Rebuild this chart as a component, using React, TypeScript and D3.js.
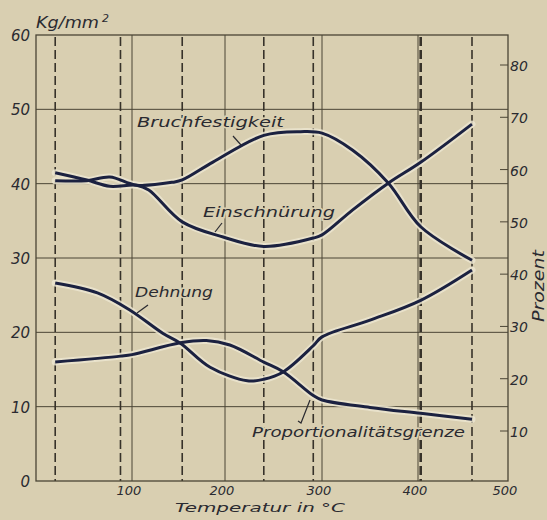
import React, { useEffect } from "react";
import * as d3 from "d3";

// ---- data ----
const testTemps = [20, 88, 154, 240, 291, 403, 460];
const xTicks = [100, 200, 300, 400, 500];
const leftTicks = [0, 10, 20, 30, 40, 50, 60];
const rightTicks = [10, 20, 30, 40, 50, 60, 70, 80];

// Bruchfestigkeit, kg/mm² (left axis)
const bruchT = [20, 53, 77, 105, 144, 154, 187, 240, 278, 300, 332, 369, 403, 460];
const bruchV = [40.4, 40.4, 40.9, 39.8, 40.2, 40.5, 42.9, 46.5, 47.0, 46.8, 44.5, 40.1, 34.2, 29.7];

// Einschnürung, % (right axis)
const einT = [20, 53, 77, 105, 118, 154, 198, 240, 291, 300, 332, 369, 403, 460];
const einV = [59.4, 58.0, 56.8, 57.0, 56.1, 50.0, 47.1, 45.3, 46.9, 47.5, 52.3, 57.4, 61.4, 68.7];

// Dehnung, % (right axis)
const dehT = [20, 64, 98, 133, 152, 184, 223, 240, 260, 291, 300, 350, 403, 460];
const dehV = [38.3, 36.4, 33.1, 28.7, 26.8, 22.2, 19.6, 19.9, 21.3, 26.3, 28.0, 31.2, 35.0, 40.8];

// Proportionalitätsgrenze, kg/mm² (left axis)
const propT = [20, 88, 100, 152, 180, 205, 240, 260, 291, 300, 350, 403, 460];
const propV = [16.0, 16.8, 17.0, 18.6, 18.9, 18.3, 16.0, 14.7, 11.5, 10.9, 9.9, 9.1, 8.3];

const W = 547;
const H = 520;
const BG = "#d9cfb1";
const GRID = "#4b4535";
const INK = "#1b2140";
const FONT = "'DejaVu Sans', 'Liberation Sans', sans-serif";

const x = d3.scaleLinear().domain([0, 100, 200, 300, 400, 500]).range([36, 132, 225, 322, 418, 508]);
const yL = d3.scaleLinear().domain([0, 60]).range([481, 35]);
const yR = d3.scaleLinear().domain([10, 80]).range([431, 65]);

const lineGen = (ys: d3.ScaleLinear<number, number>) =>
  d3
    .line<[number, number]>()
    .x((d) => x(d[0]))
    .y((d) => ys(d[1]))
    .curve(d3.curveCatmullRom.alpha(0.5));

const zip = (t: number[], v: number[]) => t.map((tt, i) => [tt, v[i]] as [number, number]);

export default function App() {
  useEffect(() => {
    document.body.style.margin = "0";
  }, []);

  const left = x(0);
  const right = x(500);
  const top = yL(60);
  const bottom = yL(0);

  const curves = [
    { d: lineGen(yL)(zip(bruchT, bruchV)) },
    { d: lineGen(yR)(zip(einT, einV)) },
    { d: lineGen(yR)(zip(dehT, dehV)) },
    { d: lineGen(yL)(zip(propT, propV)) },
  ];

  const textStyle = {
    fontFamily: FONT,
    fontStyle: "italic" as const,
    fill: "#2a2a30",
  };

  const label = (s: string, xx: number, yy: number, len: number, size = 14) => (
    <text
      x={xx}
      y={yy}
      fontSize={size}
      textLength={len}
      lengthAdjust="spacingAndGlyphs"
      stroke={BG}
      strokeWidth={3}
      paintOrder="stroke"
      style={textStyle}
    >
      {s}
    </text>
  );

  return (
    <svg width={W} height={H} style={{ position: "absolute", left: 0, top: 0, background: BG }}>
      <rect x={0} y={0} width={W} height={H} fill={BG} />

      {/* horizontal grid */}
      {leftTicks
        .filter((v) => v > 0 && v < 60)
        .map((v) => (
          <line key={"h" + v} x1={left} x2={right} y1={yL(v)} y2={yL(v)} stroke={GRID} strokeWidth={1} />
        ))}
      {/* vertical solid grid */}
      {xTicks
        .filter((v) => v < 500)
        .map((v) => (
          <line key={"v" + v} x1={x(v)} x2={x(v)} y1={top} y2={bottom} stroke={GRID} strokeWidth={1} />
        ))}
      {/* dashed test temperature lines */}
      {testTemps.map((t) => (
        <line
          key={"d" + t}
          x1={x(t)}
          x2={x(t)}
          y1={top + 2}
          y2={bottom}
          stroke="#37322a"
          strokeWidth={t === 403 ? 2.6 : 1.6}
          strokeDasharray="9 4"
        />
      ))}
      {/* frame */}
      <rect x={left} y={top} width={right - left} height={bottom - top} fill="none" stroke={GRID} strokeWidth={1.3} />

      {/* right axis ticks */}
      {rightTicks.map((v) => (
        <line key={"rt" + v} x1={right - 8} x2={right} y1={yR(v)} y2={yR(v)} stroke={GRID} strokeWidth={1} />
      ))}

      {/* curves */}
      {curves.map((c, i) => (
        <path key={"halo" + i} d={c.d || ""} fill="none" stroke="#ebe5d0" strokeWidth={7} strokeOpacity={0.85} strokeLinecap="round" />
      ))}
      {curves.map((c, i) => (
        <path key={"c" + i} d={c.d || ""} fill="none" stroke={INK} strokeWidth={3} strokeLinecap="butt" />
      ))}

      {/* leader lines */}
      <g stroke="#2a2a30" strokeWidth={1.2} fill="none">
        <line x1={233} y1={136} x2={241} y2={145} />
        <line x1={222} y1={223} x2={215} y2={232} />
        <line x1={148} y1={305} x2={137} y2={313} />
        <path d="M310,400 L301,423 L298,421" />
      </g>

      {/* curve labels */}
      {label("Bruchfestigkeit", 137, 127, 147)}
      {label("Einschnürung", 203, 217, 132)}
      {label("Dehnung", 135, 297, 78)}
      {label("Proportionalitätsgrenze", 252, 437, 213)}

      {/* left axis labels */}
      {leftTicks.map((v) => (
        <text key={"lt" + v} x={30} y={yL(v) + 6} fontSize={15} textAnchor="end" style={textStyle}>
          {v}
        </text>
      ))}
      {/* right axis labels */}
      {rightTicks.map((v) => (
        <text key={"rl" + v} x={510} y={yR(v) + 6} fontSize={14} style={textStyle}>
          {v}
        </text>
      ))}
      {/* bottom axis labels */}
      {xTicks.map((v) => (
        <text key={"xl" + v} x={x(v) - 3} y={495} fontSize={13} textAnchor="middle" style={textStyle}>
          {v}
        </text>
      ))}

      {/* unit labels */}
      <text x={36} y={28} fontSize={15} textLength={63} lengthAdjust="spacingAndGlyphs" style={textStyle}>
        Kg/mm
      </text>
      <text x={102} y={22} fontSize={11} style={textStyle}>
        2
      </text>
      <text x={175} y={512} fontSize={13} textLength={170} lengthAdjust="spacingAndGlyphs" style={textStyle}>
        Temperatur in °C
      </text>
      <text
        x={0}
        y={0}
        fontSize={15}
        textLength={72}
        lengthAdjust="spacingAndGlyphs"
        textAnchor="middle"
        transform={`translate(544,286) rotate(-90)`}
        style={textStyle}
      >
        Prozent
      </text>
    </svg>
  );
}
